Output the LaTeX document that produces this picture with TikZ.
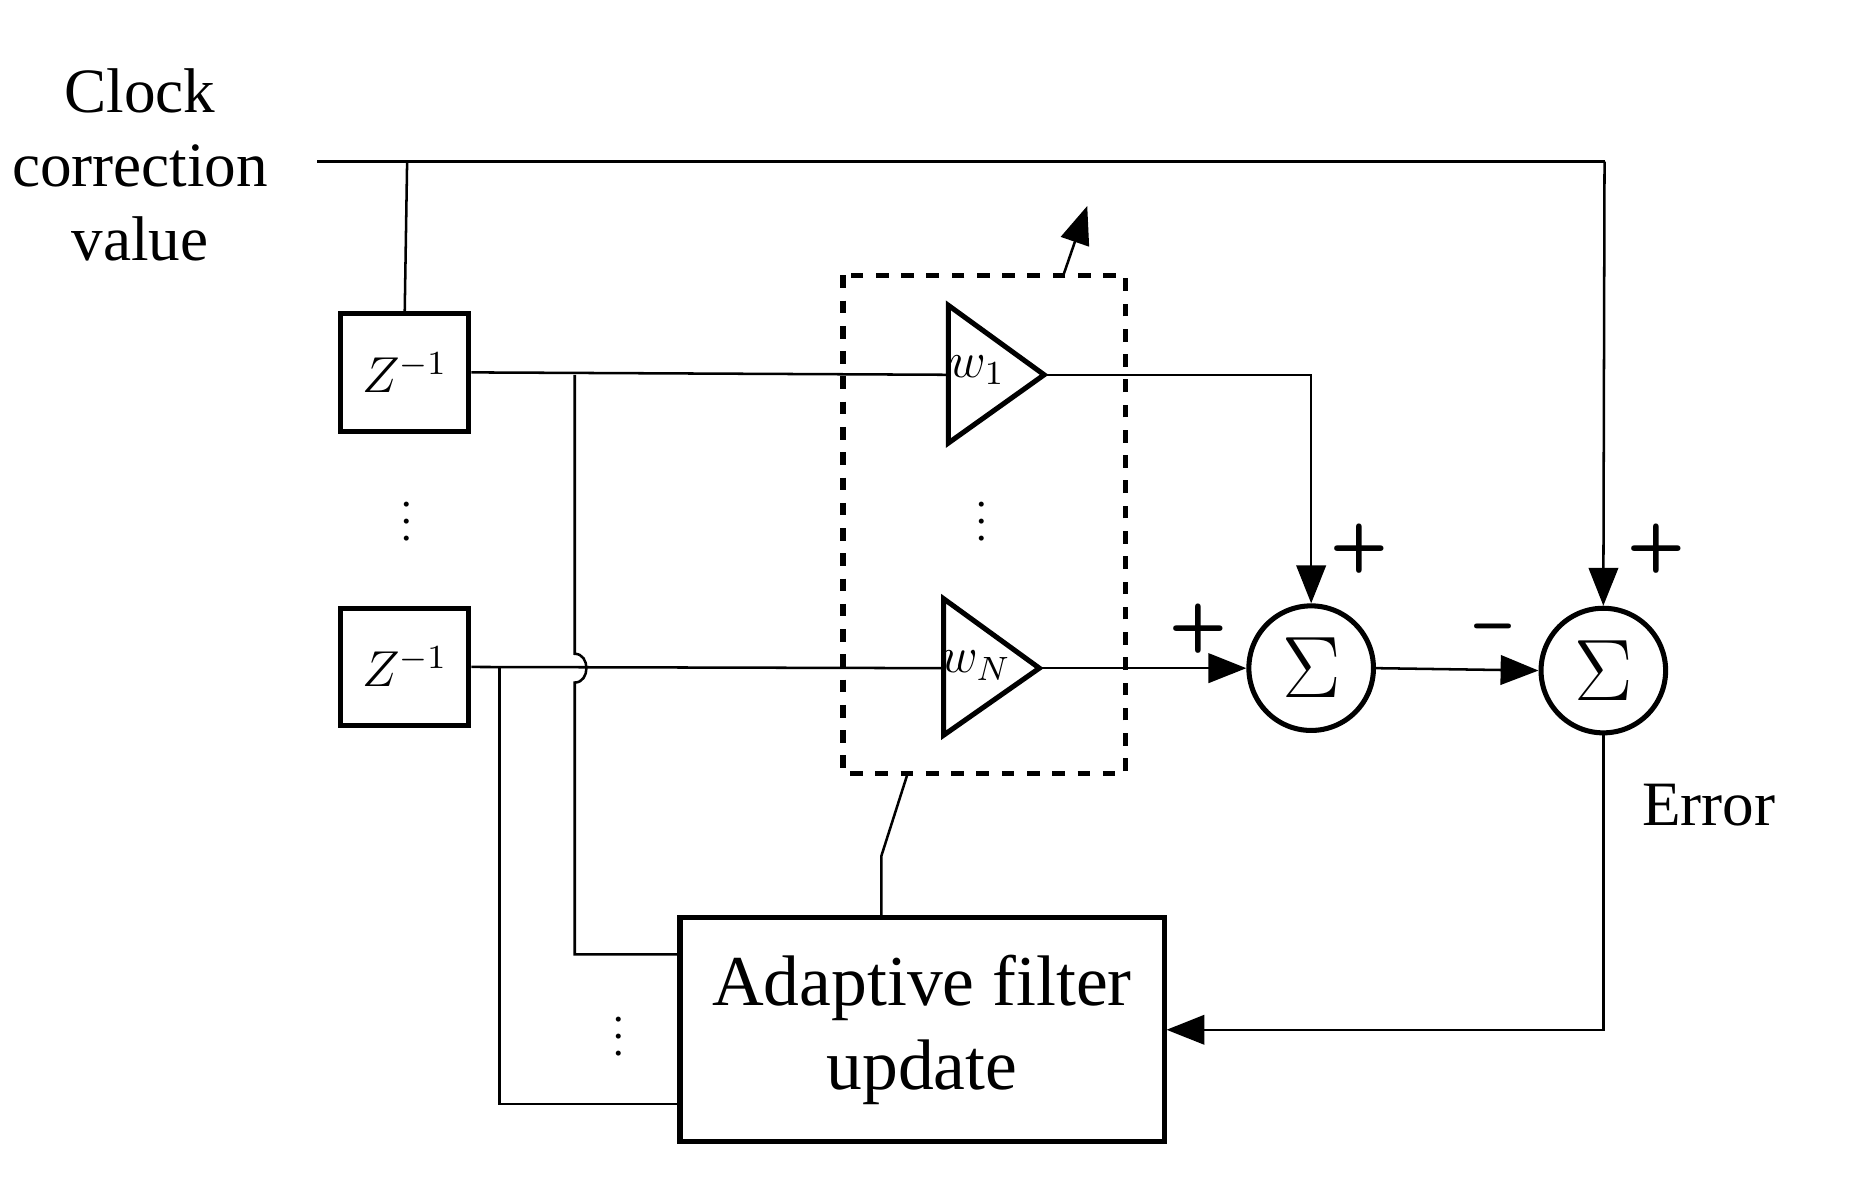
\documentclass[tikz,border=0pt]{standalone}
\usepackage{fontspec}
\setmainfont{Liberation Serif}
\usetikzlibrary{arrows.meta}
\tikzset{%
  blk/.style={draw, line width=1.2pt, inner sep=0pt},
  amp/.style={draw, line width=1.2pt, line join=miter},
  sumn/.style={draw, line width=1.2pt, circle, minimum size=1.04cm, inner sep=0pt, font=\fontsize{20}{20}\selectfont},
  sig/.style={font=\sffamily\bfseries\fontsize{16}{16}\selectfont},
  myedge/.style={-{Triangle[length=9pt,width=7pt]}},
  wire/.style={line width=0.6pt}
}
\begin{document}
\begin{tikzpicture}[x=0.01cm,y=-0.01cm]
  \useasboundingbox (0,0) rectangle (1550,1000);
  \node[align=center, font=\fontsize{15}{17.6}\selectfont] (clk) at (117,138) {Clock\\correction\\value};
  \node[blk, minimum width=1.07cm, minimum height=0.98cm, font=\large] (z1) at (338,311) {$Z^{-1}$};
  \node[blk, minimum width=1.07cm, minimum height=0.98cm, font=\large] (z2) at (338,557) {$Z^{-1}$};
  \node (d1) at (340,425) {$\vdots$};
  % amplifiers
  \coordinate (w1in) at (792,313);
  \coordinate (w1out) at (872,313);
  \draw[amp] (792,255) -- (w1out) -- (792,370) -- cycle;
  \node[font=\large] (w1) at (816,309) {$w_1$};
  \coordinate (wnin) at (788,558);
  \coordinate (wnout) at (868,558);
  \draw[amp] (788,500) -- (wnout) -- (788,614) -- cycle;
  \node[font=\large] (wn) at (815,556) {$w_N$};
  \node (d2) at (820,425) {$\vdots$};
  \node[sumn] (s1) at (1095,558) {$\Sigma$};
  \node[sumn] (s2) at (1339,560) {$\Sigma$};
  \node[blk, minimum width=4.04cm, minimum height=1.87cm, align=center, font=\fontsize{17}{20}\selectfont] (ad) at (770,860) {Adaptive filter\\update};
  \node (d3) at (517,855) {$\vdots$};
  \node[font=\fontsize{15}{17.6}\selectfont] (err) at (1427,672) {Error};
  \node[sig] at (1135,458) {+};
  \node[sig] at (1383,458) {+};
  \node[sig] at (1001,525) {+};
  \node[sig] at (1247,530) {\textendash};
  \draw[dashed, line width=1.2pt] (704,230) rectangle (940,646);
  \coordinate (top) at (265,135);
  \coordinate (b1) at (480,313);
  \coordinate (b2) at (417,558);
  \draw[wire] (top) -- (1340,135) coordinate (tr);
  \draw[wire, myedge] (tr) -- (s2.north);
  \draw[wire] (340,135) -- (z1.north);
  \draw[wire] (z1.east) -- (w1in);
  \draw[wire] (z2.east) -- (wnin);
  \draw[wire] (b1) -- (480,546) .. controls (493,546) and (493,570) .. (480,570) -- (480,797) -- (ad.west |- 0,797);
  \draw[wire] (b2) -- (417,922) -- (ad.west |- 0,922);
  \draw[wire] (758,646) -- (736,715) -- (ad.north -| 736,0);
  \draw[wire, myedge] (888,230) -- (908,172);
  \draw[wire, myedge] (w1out) -| (s1.north);
  \draw[wire, myedge] (wnout) -- (s1.west);
  \draw[wire, myedge] (s1.east) -- (s2.west);
  \draw[wire, myedge] (s2.south) |- (ad.east |- 0,860);
\end{tikzpicture}
\end{document}
